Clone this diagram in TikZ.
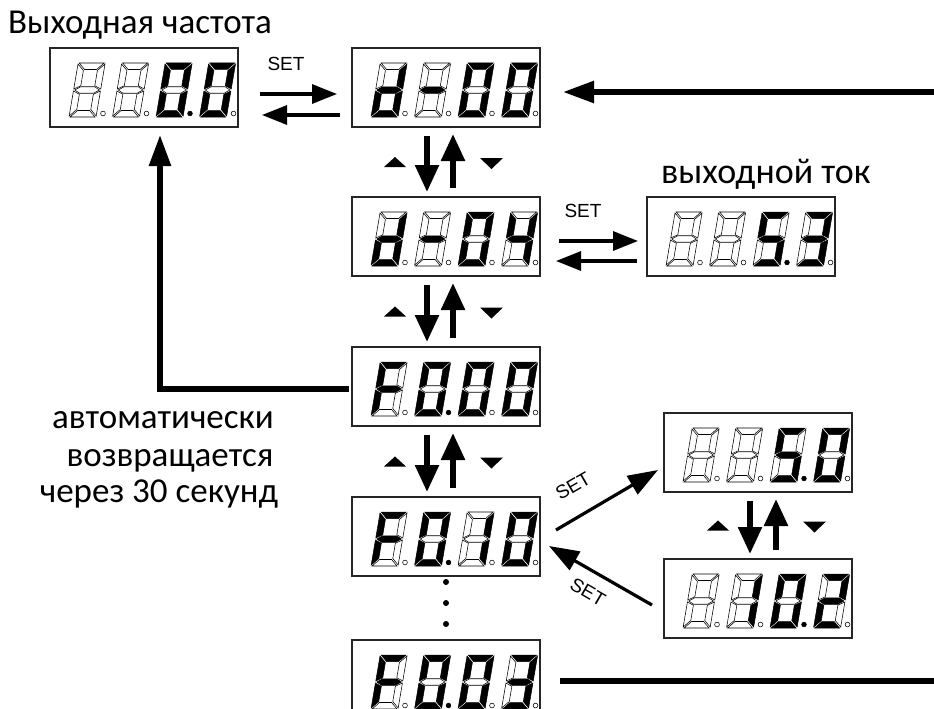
\documentclass[tikz,border=0pt]{standalone}
\usepackage{fontspec}
\setmainfont{Carlito}
\newfontfamily\arialf{Liberation Sans}
\usetikzlibrary{arrows.meta,calc}

\tikzset{
  seg1/.style={fill=black,draw=black,line width=0.5pt,line join=miter},
  seg0/.style={fill=white,draw=black,line width=0.55pt},
  dp1/.style={fill=black,draw=black,line width=0.5pt},
  dp0/.style={fill=white,draw=black,line width=0.55pt},
  dbox/.style={draw=black!85,line width=1.3pt,minimum width=188pt,minimum height=79pt,inner sep=0pt,outer sep=0pt},
  bigarrow/.style={line width=5.5pt,-{Triangle[length=31pt,width=21pt]}},
  setarrow/.style={line width=3.2pt,-{Triangle[length=25pt,width=19pt]}},
  diagarrow/.style={line width=3.2pt,-{Triangle[length=30pt,width=21pt]}},
  varrow/.style={line width=5.5pt,-{Triangle[length=27pt,width=23pt]}},
  txt/.style={font=\fontsize{35}{38}\selectfont,inner sep=0pt,anchor=base west},
  setl/.style={font=\arialf\fontsize{19}{19}\selectfont,inner sep=0pt}
}

\def\segparse#1#2#3#4#5#6#7#8\endseg{%
  \begin{scope}[xslant=0.17]
    \path[seg#1] (1,54) -- (26,54) -- (19.5,47.5) -- (7.5,47.5) -- cycle;
    \path[seg#2] (27,53) -- (20.5,46.5) -- (20.5,31.25) -- (27,28) -- cycle;
    \path[seg#3] (27,1) -- (20.5,7.5) -- (20.5,22.75) -- (27,26) -- cycle;
    \path[seg#4] (1,0) -- (26,0) -- (19.5,6.5) -- (7.5,6.5) -- cycle;
    \path[seg#5] (0,1) -- (6.5,7.5) -- (6.5,22.75) -- (0,26) -- cycle;
    \path[seg#6] (0,53) -- (6.5,46.5) -- (6.5,31.25) -- (0,28) -- cycle;
    \path[seg#7] (1.2,27) -- (6.5,30.25) -- (20.5,30.25) -- (25.8,27) -- (20.5,23.75) -- (6.5,23.75) -- cycle;
  \end{scope}
  \path[dp#8] (34,3.5) circle[radius=2.4];}
\newcommand\segdig[3]{\begin{scope}[shift={(#1,#2)}]\segparse#3\endseg\end{scope}}
\newcommand\disp[7]{%
  \node[dbox,anchor=north west] (#1) at (#2,-#3) {};
  \begin{scope}[shift={(#2,-#3)}]
    \segdig{19}{-69}{#4}\segdig{62.5}{-69}{#5}\segdig{106}{-69}{#6}\segdig{149.5}{-69}{#7}
  \end{scope}}
\newcommand\vgroup[3]{%
  \draw[varrow,shorten <=9pt,shorten >=5pt] ([xshift=#3-19]#1.south) -- ([xshift=#3-19]#2.north);
  \draw[varrow,shorten <=9pt,shorten >=7pt] ([xshift=#3+7]#2.north) -- ([xshift=#3+7]#1.south);
  \coordinate (#1mid) at ($(#1.south)!0.5!(#2.north)$);
  \fill ([shift={(#3-62,-5)}]#1mid) -- ++(22,0) -- ++(-11,10) -- cycle;
  \fill ([shift={(#3+34,4)}]#1mid) -- ++(23,0) -- ++(-11.5,-11) -- cycle;}

\begin{document}
\begin{tikzpicture}[x=1pt,y=1pt]
\path[use as bounding box] (0,-709) rectangle (934,0);
\clip (0,-709) rectangle (934,0);

% displays
\disp{b1}{50}{48}{00000000}{00000000}{11111101}{11111100}
\disp{b2}{352}{48}{01111010}{00000010}{11111100}{11111100}
\disp{b3}{352}{197}{01111010}{00000010}{11111100}{01100110}
\disp{b4}{647}{197}{00000000}{00000000}{10110111}{11110010}
\disp{b5}{352}{347}{10001110}{11111101}{11111100}{11111100}
\disp{b6}{352}{497}{10001110}{11111101}{01100000}{11111100}
\disp{b7}{664}{413}{00000000}{00000000}{10110111}{11111100}
\disp{b8}{664}{559}{00000000}{01100000}{11111101}{11011010}
\disp{b9}{352}{640}{10001110}{11111101}{11111100}{11110010}

% texts
\node[txt] (t1) at (8,-34) {Выходная частота};
\node[txt,font=\fontsize{36}{38}\selectfont] (t2) at (661,-183) {выходной ток};
\node[txt,anchor=base] (t3) at (163,-428) {автоматически};
\node[txt,anchor=base] (t4) at (170,-466) {возвращается};
\node[txt,anchor=base] (t5) at (159,-502) {через 30 секунд};

% SET labels
\node[setl] (s1) at (286,-64) {SET};
\node[setl] (s2) at (583,-211) {SET};
\node[setl,rotate=30] (s3) at (573,-486) {SET};
\node[setl,rotate=-30] (s4) at (588,-592) {SET};

% SET arrows
\draw[setarrow,shorten <=22pt,shorten >=15pt] ([yshift=-6.5]b1.east) -- ([yshift=-6.5]b2.west);
\draw[setarrow,shorten <=12pt,shorten >=24pt] ([yshift=-27.5]b2.west) -- ([yshift=-27.5]b1.east);
\draw[setarrow,shorten <=19pt,shorten >=9pt] ([yshift=-4.5]b3.east) -- ([yshift=-4.5]b4.west);
\draw[setarrow,shorten <=10pt,shorten >=16pt] ([yshift=-24.5]b4.west) -- ([yshift=-24.5]b3.east);
\draw[diagarrow] ([shift={(16,6.5)}]b6.east) -- ([shift={(-6,-17.5)}]b7.west);
\draw[diagarrow] ([shift={(-12,-6.5)}]b8.west) -- ([shift={(9,-9.5)}]b6.east);

% top return arrow
\coordinate (tr) at (934,-92);
\draw[bigarrow,shorten >=23pt] (tr) -- (b2.east |- tr);

% automatic return
\draw[bigarrow,shorten <=3pt,shorten >=8pt] ([yshift=-2.5]b5.west) -| ([xshift=16]b1.south);

% up/down groups
\vgroup{b2}{b3}{0}
\vgroup{b3}{b5}{0}
\vgroup{b5}{b6}{0}
\vgroup{b7}{b8}{11}

% dots
\fill (b6.south |- 0,-582) circle[radius=3];
\fill (b6.south |- 0,-603) circle[radius=3];
\fill (b6.south |- 0,-624) circle[radius=3];

% bottom line
\coordinate (brr) at (934,-681);
\draw[line width=5.5pt,shorten <=20pt] (b9.east |- brr) -- (brr);
\end{tikzpicture}
\end{document}
